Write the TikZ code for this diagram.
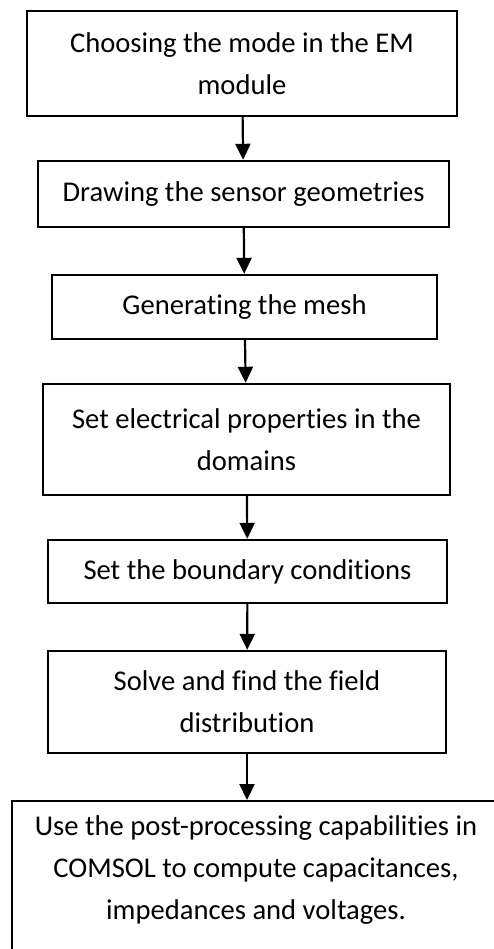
\documentclass[tikz,border=0pt]{standalone}
\usepackage{fontspec}
\setmainfont{Carlito}[Ligatures=NoCommon]
\usetikzlibrary{arrows.meta}

\begin{document}
\begin{tikzpicture}[x=1pt, y=-1pt,
  stepbox/.style={draw, rectangle, line width=2.4pt, align=center, inner sep=0pt,
    font=\fontsize{28.6}{42}\selectfont},
  flow/.style={line width=2.2pt, -{Triangle[width=15pt,length=16pt]}}]
\useasboundingbox (0,0) rectangle (494,949);
\clip (0,0) rectangle (494,949);
% Nodes
\node[stepbox, minimum width=430, minimum height=105] (mode) at (242,63.5) {Choosing the mode in the EM\\module};
\node[stepbox, minimum width=411, minimum height=66] (geom) at (243.5,194) {Drawing the sensor geometries};
\node[stepbox, minimum width=385, minimum height=64] (mesh) at (244.5,307) {Generating the mesh};
\node[stepbox, minimum width=407, minimum height=111] (props) at (246.5,439.5) {Set electrical properties in the\\domains};
\node[stepbox, minimum width=399, minimum height=63] (bound) at (247.5,571.5) {Set the boundary conditions};
\node[stepbox, minimum width=398, minimum height=102] (solve) at (247,702) {Solve and find the field\\distribution};
\node[stepbox, minimum width=488, inner ysep=14pt, anchor=north] (post) at (256,800) {Use the post-processing capabilities in\\COMSOL to compute capacitances,\\impedances and voltages.\\[30pt]};

% Arrows
\draw[flow] (mode) -- (geom);
\draw[flow] (geom) -- (mesh);
\draw[flow] (mesh) -- (props);
\draw[flow] (props) -- (bound);
\draw[flow] (bound) -- (solve);
\draw[flow] (solve.south) -- (solve.south |- post.north);
\end{tikzpicture}
\end{document}
